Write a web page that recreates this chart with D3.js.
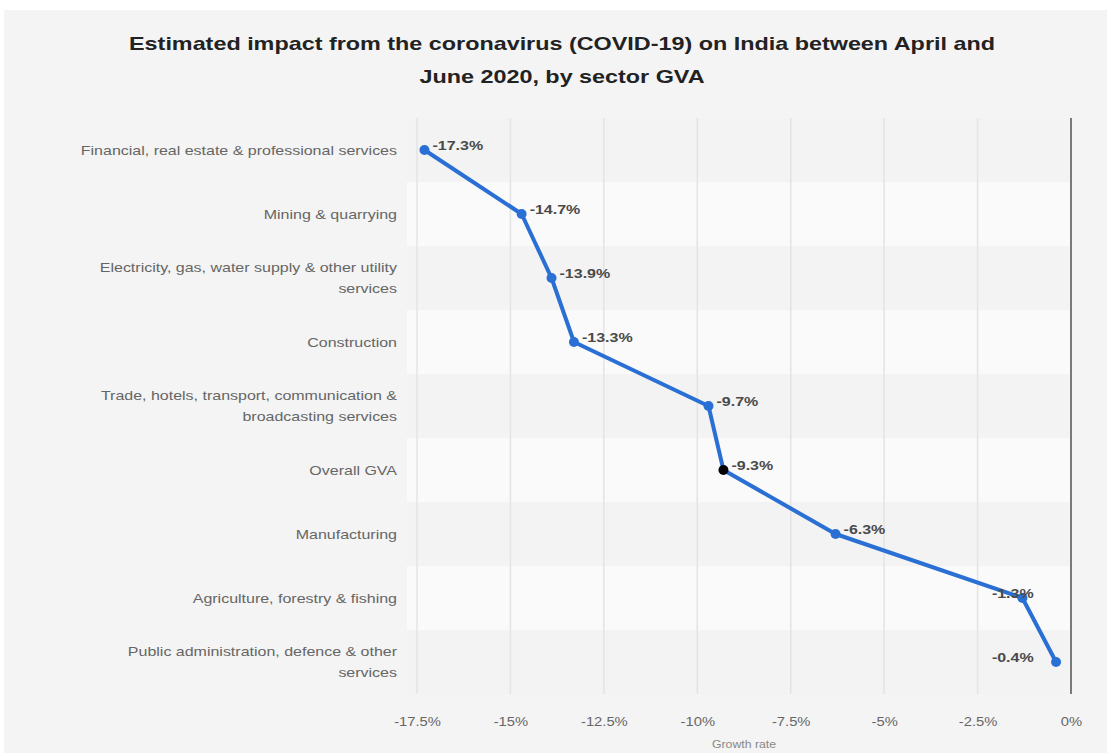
<!DOCTYPE html>
<html lang="en">
<head>
<meta charset="utf-8" />
<title>COVID-19 impact on India GVA</title>
<script src="https://d3js.org/d3.v7.min.js"></script>
<style>
  html, body { margin: 0; padding: 0; background: #fff; }
  svg { display: block; font-family: "Liberation Sans", Arial, sans-serif; }
</style>
</head>
<body>
<script>
// data
const sectors = [
  ["Financial, real estate & professional services"],
  ["Mining & quarrying"],
  ["Electricity, gas, water supply & other utility", "services"],
  ["Construction"],
  ["Trade, hotels, transport, communication &", "broadcasting services"],
  ["Overall GVA"],
  ["Manufacturing"],
  ["Agriculture, forestry & fishing"],
  ["Public administration, defence & other", "services"]
];
const growth = [-17.3, -14.7, -13.9, -13.3, -9.7, -9.3, -6.3, -1.3, -0.4];
const highlight = "Overall GVA";
const xTicks = [-17.5, -15, -12.5, -10, -7.5, -5, -2.5, 0];
const titleLines = [
  "Estimated impact from the coronavirus (COVID-19) on India between April and",
  "June 2020, by sector GVA"
];
const xTitle = "Growth rate";

const width = 1107, height = 753;
const plot = { left: 417, right: 1071, top: 118, bottom: 694 };
const SX = 1.23; // the source picture is stretched sideways

const svg = d3.select("body").append("svg")
  .attr("width", width)
  .attr("height", height);

// page background
svg.append("rect")
  .attr("x", 4).attr("y", 10)
  .attr("width", width - 4).attr("height", height - 10)
  .attr("fill", "#f4f4f4");

// title
svg.append("g")
  .selectAll("text")
  .data(titleLines)
  .join("text")
  .attr("transform", (d, i) => "translate(562," + (50 + i * 33) + ") scale(" + SX + ",1)")
  .attr("text-anchor", "middle")
  .attr("font-size", 19)
  .attr("font-weight", "bold")
  .attr("fill", "#222")
  .text(d => d);

const names = sectors.map(s => s.join(" "));

const x = d3.scaleLinear()
  .domain([-17.5, 0])
  .range([plot.left, plot.right]);

const y = d3.scaleBand()
  .domain(names)
  .range([plot.top, plot.bottom]);

// alternating row bands
svg.append("g")
  .selectAll("rect")
  .data(names)
  .join("rect")
  .attr("x", plot.left - 10)
  .attr("y", d => y(d))
  .attr("width", plot.right - plot.left + 10)
  .attr("height", y.bandwidth())
  .attr("fill", (d, i) => i % 2 ? "#fafafa" : "#f3f3f3");

// vertical grid lines
svg.append("g")
  .selectAll("line")
  .data(xTicks.filter(t => t !== 0))
  .join("line")
  .attr("x1", d => x(d)).attr("x2", d => x(d))
  .attr("y1", plot.top).attr("y2", plot.bottom)
  .attr("stroke", "#e4e4e4")
  .attr("stroke-width", 1.5);

// zero line
svg.append("line")
  .attr("x1", x(0)).attr("x2", x(0))
  .attr("y1", plot.top).attr("y2", plot.bottom)
  .attr("stroke", "#7a7a7a")
  .attr("stroke-width", 2);

// x axis
const fmt = d => String(d) + "%";
const xAxis = svg.append("g")
  .attr("transform", "translate(0," + plot.bottom + ")")
  .call(d3.axisBottom(x).tickValues(xTicks).tickFormat(fmt).tickSize(0).tickPadding(23));
xAxis.select(".domain").remove();
xAxis.selectAll("text")
  .attr("transform", "scale(" + SX + ",1)")
  .attr("font-size", 12)
  .attr("font-family", "Liberation Sans, Arial, sans-serif")
  .attr("fill", "#666");

svg.append("text")
  .attr("transform", "translate(" + (plot.left + plot.right) / 2 + ",748) scale(" + SX + ",1)")
  .attr("text-anchor", "middle")
  .attr("font-size", 10)
  .attr("fill", "#888")
  .text(xTitle);

// y axis labels (possibly two lines)
const yLab = svg.append("g")
  .selectAll("text")
  .data(sectors)
  .join("text")
  .attr("text-anchor", "end")
  .attr("font-size", 13)
  .attr("fill", "#666")
  .attr("transform", (d, i) => "translate(397," + (y(names[i]) + y.bandwidth() / 2) + ") scale(" + SX + ",1)");
yLab.selectAll("tspan")
  .data(d => d.map((t, j) => ({ t, j, n: d.length })))
  .join("tspan")
  .attr("x", 0)
  .attr("y", d => (d.j - (d.n - 1) / 2) * 21)
  .attr("dy", "0.35em")
  .text(d => d.t);

// line
const pts = growth.map((v, i) => ({ v, name: names[i] }));
const cy = d => y(d.name) + y.bandwidth() / 2;

svg.append("path")
  .datum(pts)
  .attr("fill", "none")
  .attr("stroke", "#2a6fd4")
  .attr("stroke-width", 4)
  .attr("stroke-linejoin", "round")
  .attr("d", d3.line().x(d => x(d.v)).y(cy));

svg.append("g")
  .selectAll("circle")
  .data(pts)
  .join("circle")
  .attr("cx", d => x(d.v))
  .attr("cy", cy)
  .attr("r", 5)
  .attr("fill", d => d.name === highlight ? "#000" : "#2a6fd4");

// value labels
svg.append("g")
  .selectAll("text")
  .data(pts)
  .join("text")
  .attr("transform", d => {
    const lx = d.v > -2 ? x(-1) : x(d.v) + 8;
    return "translate(" + lx + "," + (cy(d) - 5) + ") scale(" + SX + ",1)";
  })
  .attr("dy", "0.35em")
  .attr("text-anchor", d => d.v > -2 ? "end" : "start")
  .attr("font-size", 13)
  .attr("font-weight", "bold")
  .attr("fill", "#4a4a4a")
  .text(d => fmt(d.v));
</script>
</body>
</html>
